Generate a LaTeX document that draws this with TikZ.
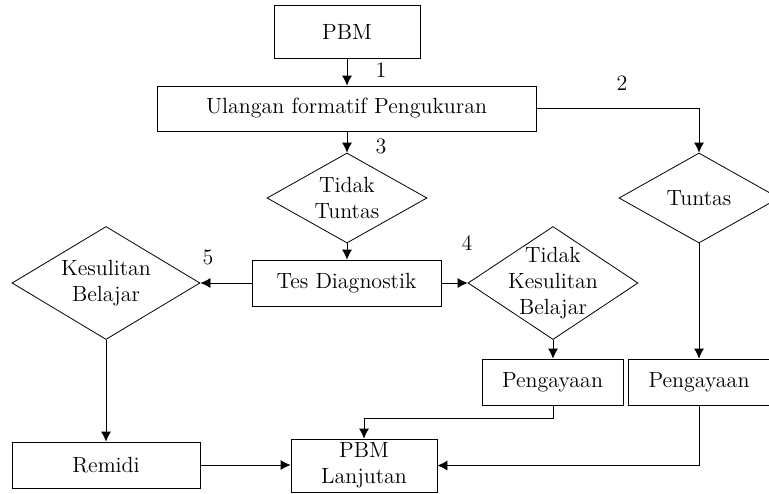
\documentclass[tikz,border=0pt]{standalone}
\usetikzlibrary{shapes.geometric,arrows.meta}

\begin{document}
\begin{tikzpicture}[x=0.5pt, y=-0.5pt, >={Latex[length=5pt,width=5pt]},
	font=\fontsize{11}{13}\selectfont,
	kotak/.style={draw, inner sep=0pt, align=center},
	belah/.style={draw, diamond, inner sep=0pt},
	isi/.style={align=center, inner sep=0pt}]
	\useasboundingbox (0,0) rectangle (769,493);
	% kotak
	\node [kotak, minimum width=73pt, minimum height=26.5pt] (pbm) at (347,31.5) {PBM};
	\node [kotak, minimum width=189.5pt, minimum height=22.5pt] (ulangan) at (346.5,108.5) {Ulangan formatif Pengukuran};
	\node [kotak, minimum width=94.5pt, minimum height=23pt] (tes) at (346.5,283) {Tes Diagnostik};
	\node [kotak, minimum width=70.5pt, minimum height=23pt] (peng1) at (552.5,382) {Pengayaan};
	\node [kotak, minimum width=71pt, minimum height=23pt] (peng2) at (699,382) {Pengayaan};
	\node [kotak, minimum width=94pt, minimum height=23pt] (remidi) at (106,465) {Remidi};
	\node [kotak, minimum width=73pt, minimum height=26.5pt] (lanjut) at (364,465.5) {PBM\\Lanjutan};
	% belah ketupat
	\node [belah, minimum width=80pt, minimum height=45pt] (tdktuntas) at (347,198) {};
	\node [isi] (tdktuntas-t) at (tdktuntas) {Tidak\\Tuntas};
	\node [belah, minimum width=80pt, minimum height=45pt] (tuntas) at (699,198) {};
	\node [isi] (tuntas-t) at (tuntas) {Tuntas};
	\node [belah, minimum width=94pt, minimum height=56.5pt] (sulit) at (106,283) {};
	\node [isi] (sulit-t) at (sulit) {Kesulitan\\Belajar};
	\node [belah, minimum width=85pt, minimum height=56.5pt] (tdksulit) at (553,283) {};
	\node [isi] (tdksulit-t) at (tdksulit) {Tidak\\Kesulitan\\Belajar};
	% nomor
	\node (n1) at (381,70) {1};
	\node (n2) at (622,83) {2};
	\node (n3) at (381,146) {3};
	\node (n4) at (467,243) {4};
	\node (n5) at (208,257) {5};
	% panah
	\draw [->] (pbm.south) -- (pbm.south |- ulangan.north);
	\draw [->] (ulangan.east) -| (tuntas.north);
	\draw [->] (tdktuntas.north |- ulangan.south) -- (tdktuntas.north);
	\draw [->] (tdktuntas.south) -- (tdktuntas.south |- tes.north);
	\draw [->] (tes.west) -- (sulit.east);
	\draw [->] (tes.east) -- (tdksulit.west);
	\draw [->] (tdksulit.south) -- (tdksulit.south |- peng1.north);
	\draw [->] (tuntas.south) -- (peng2.north);
	\draw [->] (sulit.south) -- (remidi.north);
	\draw [->] (remidi.east) -- (remidi.east -| lanjut.west);
	\draw [->] (tdksulit.south |- peng1.south) -- ++(0,13) -| (lanjut.north);
	\draw [->] (peng2.south) |- (lanjut.east);
\end{tikzpicture}
\end{document}
